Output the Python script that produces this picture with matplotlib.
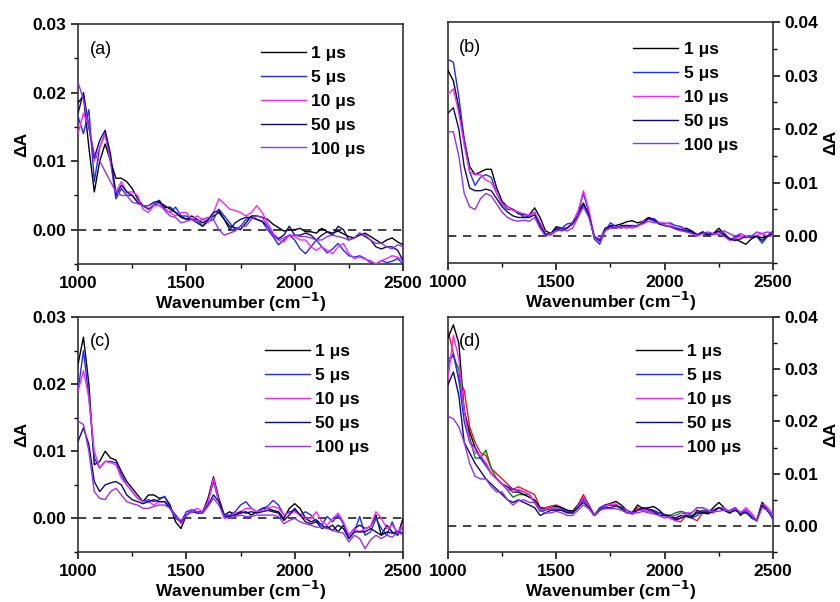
import numpy as np
import matplotlib
matplotlib.use("Agg")
import matplotlib.pyplot as plt
from matplotlib.ticker import MultipleLocator

plt.rcParams['font.family'] = ['Liberation Sans', 'DejaVu Sans']
plt.rcParams['font.weight'] = 'bold'
plt.rcParams['axes.labelweight'] = 'bold'
plt.rcParams['mathtext.default'] = 'bf'

# wavenumber grid (cm-1), one value every 25 cm-1
wavenumber = np.arange(1000, 2525, 25)

labels = ['1 \u03bcs', '5 \u03bcs', '10 \u03bcs', '50 \u03bcs', '100 \u03bcs']
colors = ['#000000', '#1a2cff', '#ff22ff', '#0a0a70', '#9330ff']

# all dA values in units of 1e-3
# ---- panel (a)
a_1us = [18.5, 19.5, 12, 5.5, 10, 12.5, 10, 7.5, 7.5, 7,
         6, 4.5, 3.5, 3, 3.5, 4, 3.5, 3, 2.5, 2,
         1.5, 2, 1.5, 1, 1.5, 2, 2.5, 1.5, 0.5, 0.3,
         0, 1, 2, 2, 1.8, 1.5, 0.8, 0.3, -0.2, 0,
         0, 0.2, -0.3, -0.3, -0.5, 0.2, -0.3, -0.5, -0.2, -0.6,
         -1, -1.2, -0.8, -0.5, -1, -1.5, -2, -1.5, -1.2, -1.8,
         -2.2]
a_5us = [16.5, 14, 17.5, 7, 12, 14, 10, 4.5, 6, 5,
         5, 4, 3.5, 3, 3.5, 4.3, 3, 2.5, 3.3, 2,
         2, 1.5, 1.5, 0.5, 1.2, 1.5, 3, 2, 1, 0,
         0.5, 1.5, 1.8, 1.5, 1.2, 0, -1, -2.2, -1.5, -0.8,
         -1.5, -2.8, -3.5, -2.5, -1.5, -2.5, -3.4, -2.8, -2, -3,
         -3.8, -4, -3.8, -4.2, -4.8, -5, -4.5, -4.8, -4.6, -4.2,
         -5]
a_10us = [14, 17, 15, 10, 12, 14, 10, 5.5, 7, 5.5,
          5.5, 5, 3, 2.5, 3.5, 3.5, 3, 2.5, 2, 2.5,
          2.5, 1.5, 2, 1.5, 1, 2.5, 4.5, 3.8, 3, 2.8,
          2.5, 2, 2.5, 3.5, 2.5, 1, -0.5, -1.5, -1.8, -0.8,
          -1, -1.5, -1.5, -2.5, -3, -2.5, -3, -3.5, -2.5, -2,
          -3.5, -4.2, -4, -4.3, -4.5, -5, -4.5, -4.2, -3.8, -4,
          -4.5]
a_50us = [17, 20, 15, 10.5, 13, 14.5, 11, 5, 6.5, 5.5,
          5, 4, 3.5, 3.5, 4, 4.2, 3.2, 3.3, 2.5, 1.8,
          1.5, 1.5, 1, 0.5, 1.5, 2.5, 2.8, 1.5, 0, 1,
          1.5, 1.8, 1.8, 1.5, 1.2, 0.5, -0.8, -1.3, -0.8, 0.5,
          -0.8, -0.8, -0.5, -0.8, -1.5, -0.8, -0.3, -0.8, 0.5, 0,
          -1.5, -1.2, -0.5, -1, -1.5, -2.5, -2.8, -2.5, -2.5, -3,
          -4.5]
a_100us = [21.5, 19, 15, 11, 10, 8.5, 7, 5.5, 5, 5,
           4, 3.8, 3.5, 3.5, 3.8, 3.8, 2.8, 2, 1.8, 1,
           1.2, 1.5, 1.2, 1.5, 1.8, 1.5, 0, -0.8, -0.5, -0.2,
           0.5, 0.5, 1.5, 2, 1.8, 0.5, -0.8, -1.5, -1.2, -0.8,
           -0.8, -1, -1, -1.2, -1.5, -1.5, -1, -0.8, -1, -1.2,
           -1.5, -1.2, -0.5, -0.8, -1.5, -2, -2, -2.5, -2.8, -2.2,
           -2.5]

# ---- panel (b)
b_1us = [31, 29, 24, 18, 13, 11.5, 12, 12.5, 12.5, 9,
         6.5, 5.5, 5, 4.2, 4, 4, 5.3, 3.5, 1, 0.5,
         1.8, 1.5, 1.5, 2.5, 4.5, 6.2, 4, 0, -1, 1.2,
         2, 2, 2.3, 2.7, 2.9, 2.5, 2.8, 3.5, 3.2, 2.3,
         2, 1.8, 1.5, 1.2, 1.5, 1, 0.3, 0.5, 0.3, 0.5,
         1.5, 0.5, -0.5, -0.5, -1, -1.5, -0.5, 0, -0.3, 0,
         0.5]
b_5us = [33, 32.5, 26, 18, 12, 9.5, 11, 11.5, 11, 8,
         6, 5, 5, 4.5, 3.5, 3.8, 4.5, 2, 0.3, 0.3,
         1.2, 1.5, 2.3, 2.5, 4.5, 8, 4.5, -0.5, -1.5, 1,
         2.5, 1.8, 1.5, 2, 2, 2, 2.5, 3.2, 3.3, 2.5,
         2.3, 2.5, 2, 1.8, 1.2, 0.8, 0.2, 0.8, 0.5, 0.3,
         0.8, 0.5, -0.5, -0.3, 0, -0.3, 0, 0, -1.3, 0,
         1]
b_10us = [26.5, 27.5, 23, 17, 12, 11.5, 11.5, 10.5, 10, 8,
          6, 5.5, 4.8, 4.5, 4.2, 4, 4.5, 2.5, 0.5, 0.2,
          1, 1.2, 1.5, 2.5, 4.5, 8.5, 5, 0, -1, 1,
          1.8, 1.7, 1.6, 1.8, 1.5, 1.8, 2.8, 3.2, 2.8, 2.5,
          2.5, 2.3, 1.5, 1.5, 1, 0.5, 0, 0.5, 0.6, 0.3,
          0.8, 0, -0.8, -0.5, 0, -0.2, 0, 0.2, 0.5, 0,
          0.2]
b_50us = [23, 24, 20, 13, 9, 8.5, 8.5, 8.8, 8.5, 7,
          5.5, 4.5, 3.8, 3.5, 3.5, 3.5, 4, 2, 0.3, 0.5,
          1.5, 1, 1.5, 2.3, 3.8, 6, 4, 0, -0.8, 1.5,
          1.8, 1.5, 2, 2, 1.8, 2, 2.5, 3.3, 3, 2.3,
          2, 1.8, 1.5, 1.2, 1, 0.8, 0.3, 0.8, 0.3, 0.5,
          1, 0.2, -0.5, -0.8, -0.5, 0, -0.2, 0, -0.8, 0,
          0.8]
b_100us = [19.5, 19.5, 15, 8, 5.5, 5, 7, 8, 7.5, 6,
           4.5, 3.5, 3, 2.8, 3, 2.8, 3.5, 1.5, 0, 0.5,
           1, 1.2, 1, 1.5, 3.5, 5.5, 3.5, 0, -0.5, 1,
           1.5, 1.5, 1.8, 1.5, 1.8, 2, 2.3, 2.8, 2.5, 2.5,
           2, 1.8, 1.3, 1, 0.8, 0.5, 0.2, 0.5, 0.8, 0.5,
           0.3, 1, 0.5, 0, 0.5, 0, 0, 0.8, 0.5, 0.8,
           0.5]

# ---- panel (c)
c_1us = [23, 27, 20, 8, 8.5, 10, 9, 8.7, 7, 5.5,
         4.5, 3.5, 2.5, 3.5, 3.5, 3, 3.2, 2, -0.5, -1.5,
         0.5, 1.2, 1, 1, 3, 6.2, 3, 0.5, 1, 0.5,
         0.8, 1, 0.5, 1, 1.5, 1.5, 1.2, 1, 0, 1.5,
         2.2, 1.5, 0, -0.5, -0.2, -1, -1.5, -1, -2, -1,
         -2.5, -1.5, -1, -1.5, -1.2, 0.5, -2.5, -1, -2, -2.5,
         0]
c_5us = [19, 25, 18, 9, 7.5, 8.5, 8.5, 8.3, 6.5, 5,
         4, 3, 2.5, 2.8, 2.5, 2.8, 3.3, 1.5, 0, -0.5,
         1, 1.3, 1, 1, 2.5, 5.5, 2.5, 0.5, 0.5, 1,
         2, 2.5, 1.5, 1, 1.5, 1.8, 2.7, 2, 0.5, 1,
         1.2, 0.5, 1, 0.5, -0.5, -1, 0.3, -0.5, 0.5, -0.8,
         -3, -2, 0.3, -2.5, -2, 0, -1.5, -2.5, -0.5, -2.5,
         -1]
c_10us = [19, 22, 18, 10, 7.5, 8.5, 8.3, 8, 6, 5,
          4, 3, 2.5, 2.5, 2, 2.5, 2.5, 1.5, 0.5, -0.8,
          0.5, 1.2, 1.5, 1, 2.5, 6, 2.5, 0, 0.3, 0.8,
          1, 1.5, 1.5, 1, 1.2, 1.5, 1.8, 1.5, 0.5, 0.8,
          1, 0.5, 0, 0, 1, -0.5, -1, 0, 0.8, -0.5,
          -2.5, -1.5, -2, -1.5, -1.2, 1, 0, -1.5, -1, -2,
          -1]
c_50us = [11.5, 13.5, 11, 5.5, 4, 5, 5.3, 5.5, 5, 3.5,
          2.8, 2.5, 2.2, 2.5, 2.8, 2.5, 2.5, 1.5, 0.5, -0.5,
          0.5, 1, 0.8, 0.8, 2, 3.5, 2.5, 0.3, 0.3, 0.5,
          1, 0.8, 1, 0.8, 1, 1.2, 1, 0.8, -0.3, 0.5,
          1.5, 0.5, -0.5, -0.8, -0.5, -1.5, -1.2, -1.8, -1, -1.5,
          -3, -2, -2, -2, -1.5, -2, -2.5, -2, -2.2, -2,
          -2.2]
c_100us = [14.5, 14, 10, 4, 3, 2.8, 4, 4.5, 3.5, 2.5,
           2.2, 2, 1.5, 1.5, 1.8, 2, 2, 1.5, 0.3, -0.3,
           0.5, 1, 1, 0.8, 1.8, 3, 2, 0.2, 0, 0.3,
           0.5, 0.3, 0.3, 0.5, 0.5, 0.5, 0.5, 0.3, -0.8, -0.3,
           0, -0.5, -0.8, -1, -1.3, -1.3, -1.5, -1.8, -2, -2.2,
           -3.5, -2.5, -3, -4.5, -3.2, -2.5, -3, -2.5, -2.8, -2,
           -2.5]

# ---- panel (d)
d_1us = [36, 38.5, 35, 22, 18, 15, 13, 12, 10, 9,
         8, 7.5, 6.5, 6.5, 6, 5.5, 5, 3.5, 3.2, 3.5,
         3.8, 3.5, 3, 2.8, 4, 5.5, 4, 2, 3, 4,
         4.3, 4.7, 4, 3, 2.5, 4, 3.3, 3.5, 3.7, 3,
         2, 1.8, 1.5, 2, 1.8, 1.5, 3, 2.5, 2.5, 3.5,
         4.5, 3.5, 2.5, 3.5, 2, 3, 2, 1, 4.5, 3,
         2]
d_5us = [31, 33, 28, 20, 16, 15, 13, 11.5, 10, 9,
         8, 7.5, 7, 6.8, 6.5, 6, 4.5, 3, 3.2, 3.5,
         3.5, 3.2, 2.8, 2.5, 3.5, 5, 3.8, 2, 3.5, 4,
         4, 4, 3.5, 3, 2.5, 3, 3.5, 3.2, 3, 2.5,
         2, 1.5, 1.2, 1.5, 2, 1.5, 2, 2.8, 2.8, 3,
         3.5, 3, 2.5, 3, 2.5, 2.8, 1.5, 1, 4, 3,
         1.2]
d_10us = [28, 36.5, 32, 22, 16, 14, 13.5, 12, 10, 9,
          8, 7, 6.5, 7, 6.5, 6, 4.5, 3.2, 3.2, 3.5,
          3.5, 3, 2.5, 2.5, 3.8, 5.5, 3.8, 2, 3, 3.8,
          4.2, 4, 3.5, 3, 2.2, 3, 3, 3, 2.5, 2,
          2, 1.5, 1, 1.5, 2.5, 2.5, 3.5, 3.5, 3, 2.5,
          3.5, 3.5, 2.5, 3.5, 2.5, 3.5, 2.5, 1, 4.2, 3.5,
          2.2]
d_50us = [27, 29.5, 25, 16, 14, 12, 10.5, 9, 8, 7,
          6, 5, 4.5, 5, 4.5, 4, 3.5, 2, 2.5, 3,
          3, 3, 2.5, 2.5, 3.5, 4.5, 3.5, 2, 3, 3.5,
          3.5, 3.8, 3.5, 2.5, 2.5, 3, 3.5, 3.2, 2.8, 2,
          2, 2, 1.2, 1.5, 2, 1.8, 2.5, 2.5, 2.3, 2.8,
          3.5, 3, 2.5, 3, 2.5, 2.5, 1.8, 1, 4, 2.8,
          2]
d_100us = [21, 20.5, 19, 16, 12, 9.5, 9, 9, 7.5, 6.5,
           6.5, 5, 4, 4.8, 5, 4.5, 4.5, 3, 2.5, 2.5,
           2.8, 2.5, 2, 2, 3, 4, 3.3, 2, 3, 3.3,
           3.3, 3.3, 3, 2.5, 2.5, 2.5, 2.8, 2.5, 2.3, 2,
           1.5, 1.8, 2, 2.5, 2.3, 2.5, 3.5, 3.5, 3, 2.8,
           2.8, 3, 3, 3.5, 2.5, 3, 2, 1, 3.5, 3,
           2]
# two extra traces in (d) that are not in the legend
d_red = [37.5, 33, 28, 26, 19, 16, 14, 13.5, 11, 10,
         9, 8, 7, 7.5, 7, 6.5, 6, 3.5, 3.5, 3.8,
         4, 3.5, 3, 2.8, 4, 6, 4, 2, 3, 3.8,
         4, 4.2, 3.5, 3, 2.5, 3.5, 3, 2.8, 2.5, 2.5,
         2.2, 1.5, 1, 0.8, 2, 1.5, 1, 2.5, 3, 2.5,
         3.5, 3, 2.5, 3.5, 2.5, 3, 2, 1, 4.5, 3.5,
         2]
d_green = [32, 32.5, 30, 22, 17, 13, 13, 14.5, 11, 9,
           8, 6.8, 5.5, 6, 6, 6, 4.5, 2.8, 3, 3.3,
           3.2, 3, 2.8, 2.5, 3.8, 5.3, 3.5, 2, 3.2, 3.8,
           4, 4, 3.2, 3, 2.3, 3, 3.2, 3, 2.5, 2.5,
           2.2, 2, 2.5, 2.8, 2.5, 2, 2.5, 3, 2.8, 3,
           3.5, 3.2, 2.5, 3.5, 2.5, 3, 2, 1, 4.2, 3.2,
           2]

panels = [
    ('(a)', [a_1us, a_5us, a_10us, a_50us, a_100us], 0.03, 'left'),
    ('(b)', [b_1us, b_5us, b_10us, b_50us, b_100us], 0.04, 'right'),
    ('(c)', [c_1us, c_5us, c_10us, c_50us, c_100us], 0.03, 'left'),
    ('(d)', [d_1us, d_5us, d_10us, d_50us, d_100us], 0.04, 'right'),
]
# axes rectangles in figure fractions (840 x 602 px)
rects = [
    [0.0929, 0.5615, 0.3869, 0.3987],
    [0.5333, 0.5631, 0.3869, 0.4003],
    [0.0929, 0.0830, 0.3869, 0.3904],
    [0.5333, 0.0830, 0.3869, 0.3904],
]
legend_anchor = [(0.562, 0.908), (0.57, 0.917), (0.575, 0.884), (0.58, 0.884)]

fig = plt.figure(figsize=(8.4, 6.02), dpi=100)

for (tag, series, ytop, side), rect, anchor in zip(panels, rects, legend_anchor):
    ax = fig.add_axes(rect)
    ax.axhline(0, color='#222222', lw=1.2, ls=(0, (5, 4)), zorder=1)
    if tag == '(d)':
        ax.plot(wavenumber, np.array(d_red) * 1e-3, color='#ff1010', lw=1.0, zorder=2)
        ax.plot(wavenumber, np.array(d_green) * 1e-3, color='#108010', lw=1.0, zorder=2)
    for vals, lab, col in zip(series, labels, colors):
        ax.plot(wavenumber, np.array(vals) * 1e-3, color=col, lw=1.0, label=lab, zorder=3)

    ax.set_xlim(1000, 2500)
    ax.set_ylim(-0.005, ytop)
    ax.xaxis.set_major_locator(MultipleLocator(500))
    ax.xaxis.set_minor_locator(MultipleLocator(250))
    ax.yaxis.set_major_locator(MultipleLocator(0.01))
    ax.yaxis.set_minor_locator(MultipleLocator(0.005))
    ax.yaxis.set_major_formatter(plt.FuncFormatter(lambda v, p: f'{v:.2f}'))
    ax.tick_params(which='major', direction='out', length=5, width=1.1, labelsize=12.5)
    ax.tick_params(which='minor', direction='out', length=3, width=1.0)
    for sp in ax.spines.values():
        sp.set_linewidth(1.2)
        sp.set_color('#333333')

    if side == 'right':
        ax.yaxis.tick_right()
        ax.yaxis.set_label_position('right')
        ax.set_ylabel('\u0394A', fontsize=12.5, fontweight='bold', labelpad=3)
    else:
        ax.set_ylabel('\u0394A', fontsize=12.5, fontweight='bold', labelpad=2)
    ax.set_xlabel('Wavenumber (cm$^{-1}$)', fontsize=12.5, fontweight='bold', labelpad=0)

    ax.text(0.035, 0.93, tag, transform=ax.transAxes, fontsize=13,
            fontweight='normal', va='top', ha='left')

    leg = ax.legend(loc='upper left', bbox_to_anchor=anchor, frameon=False,
                    prop={'weight': 'bold', 'size': 12.5}, handlelength=2.6,
                    handletextpad=0.3, labelspacing=0.5, borderaxespad=0, borderpad=0)

fig.savefig('out.png', dpi=100)
